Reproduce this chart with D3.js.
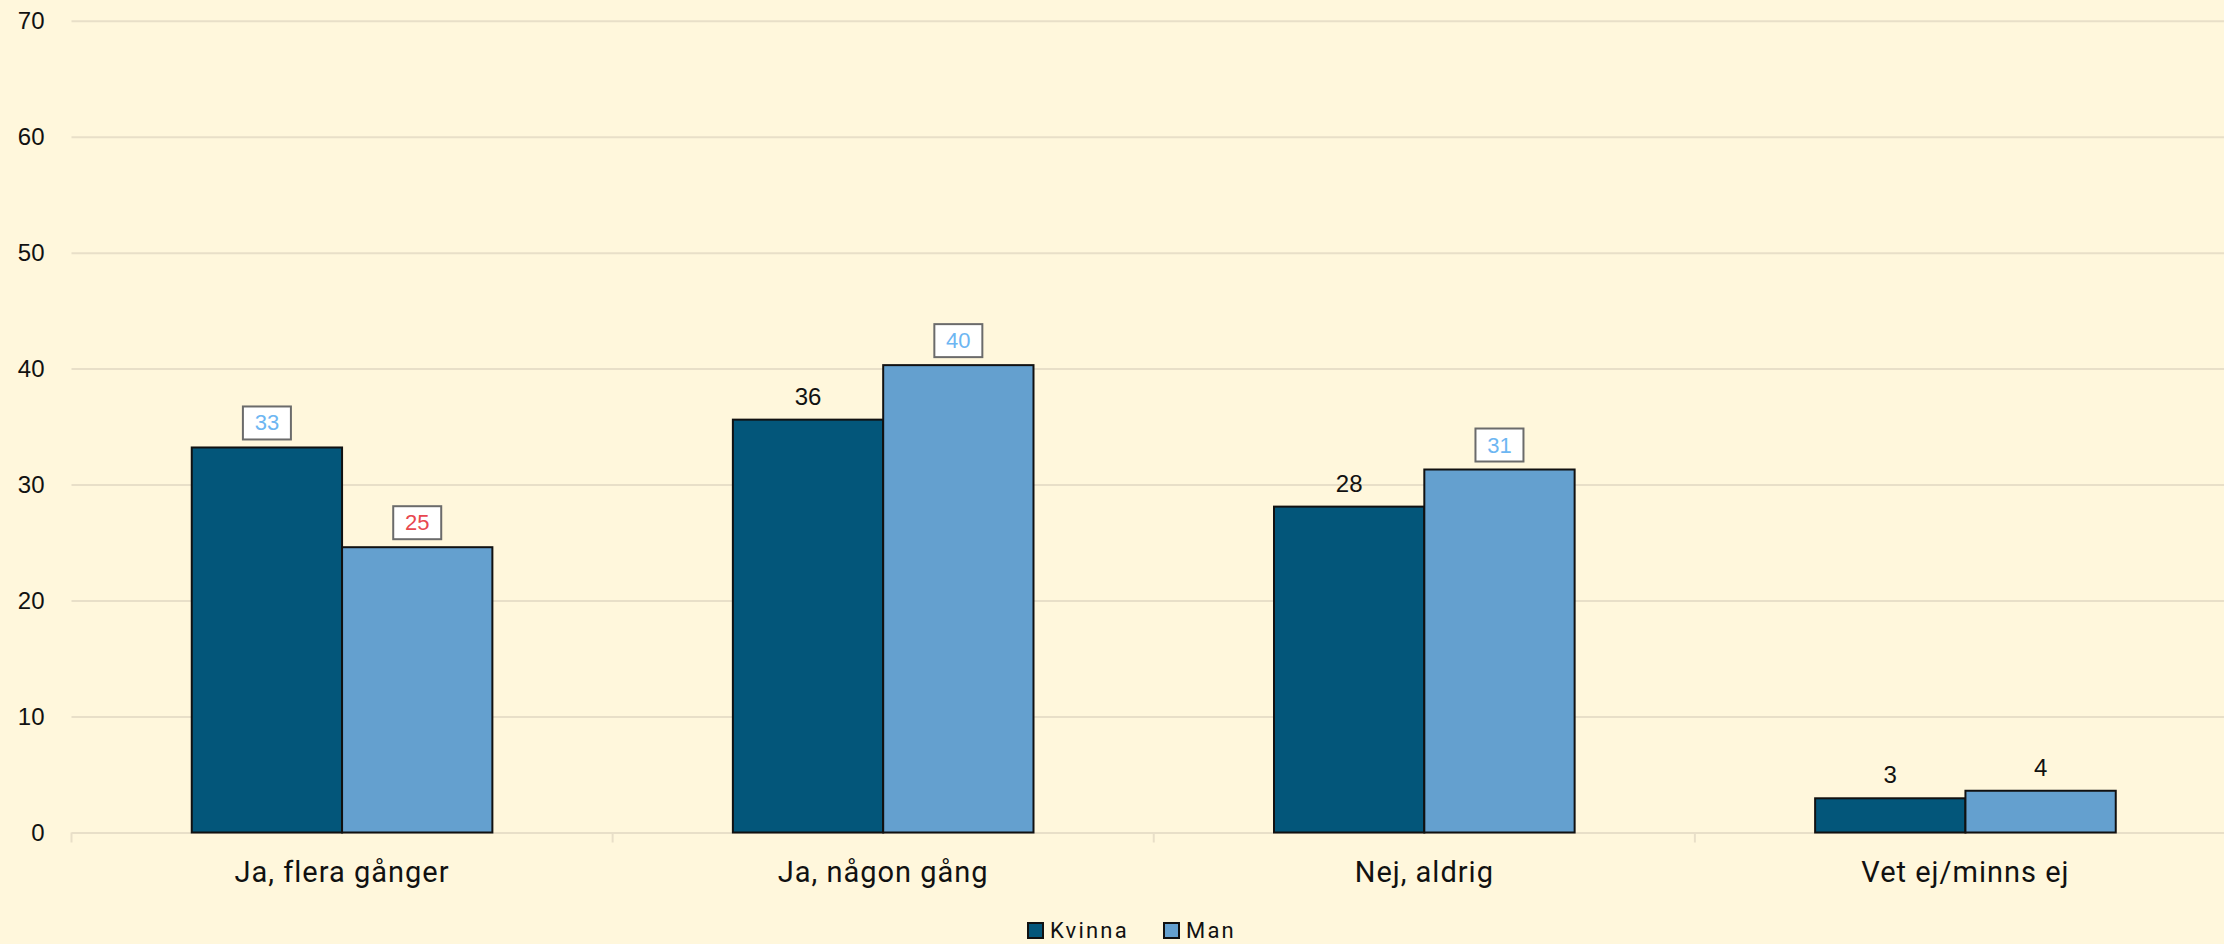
<!DOCTYPE html>
<html>
<head>
<meta charset="utf-8">
<script src="https://cdn.jsdelivr.net/npm/d3@7"></script>
<style>
  body { margin: 0; background: #fff7dc; }
  svg { display: block; }
</style>
</head>
<body>
<script>
var categories = ["Ja, flera gånger", "Ja, någon gång", "Nej, aldrig", "Vet ej/minns ej"];
var series = ["Kvinna", "Man"];
var kvinnaValues = [33.2, 35.6, 28.1, 2.95];
var manValues = [24.6, 40.3, 31.3, 3.6];
var kvinnaLabels = ["33", "36", "28", "3"];
var manLabels = ["25", "40", "31", "4"];
// marker on the label: "up" = blue box, "down" = red box, null = plain
var kvinnaMarks = ["up", null, null, null];
var manMarks = ["down", "up", "up", null];
var yTicks = [0, 10, 20, 30, 40, 50, 60, 70];

var w = 2224;
var h = 944;
var plotLeft = 71.5;
var plotRight = 2236;   // plot runs a little past the picture edge
var plotTop = 20.7;
var plotBottom = 832.5;

var rows = [];
categories.forEach(function(c, i) {
    rows.push({cat: c, key: "Kvinna", value: kvinnaValues[i], label: kvinnaLabels[i], mark: kvinnaMarks[i]});
    rows.push({cat: c, key: "Man", value: manValues[i], label: manLabels[i], mark: manMarks[i]});
});

var svg = d3.select("body")
    .append("svg")
    .attr("width", w)
    .attr("height", h);

svg.append("rect")
    .attr("width", w)
    .attr("height", h)
    .attr("fill", "#fff7dc");

var x0 = d3.scaleBand()
    .domain(categories)
    .range([plotLeft, plotRight])
    .padding(0);

var x1 = d3.scaleBand()
    .domain(series)
    .range([0, x0.bandwidth()])
    .paddingInner(0)
    .paddingOuter(0.8);

var y = d3.scaleLinear()
    .domain([0, 70])
    .range([plotBottom, plotTop]);

var color = d3.scaleOrdinal()
    .domain(series)
    .range(["#03567a", "#64a0cf"]);

// y axis with gridlines
var yAxis = svg.append("g")
    .attr("transform", "translate(" + plotLeft + ",0)")
    .call(d3.axisLeft(y)
        .tickValues(yTicks)
        .tickSizeInner(-(plotRight - plotLeft))
        .tickSizeOuter(0)
        .tickPadding(27));
yAxis.select(".domain").remove();
yAxis.selectAll(".tick line")
    .attr("stroke", "#e8dfc8")
    .attr("stroke-width", 2);
yAxis.selectAll(".tick text")
    .attr("fill", "#111")
    .style("font-family", "'Liberation Sans', Arial, sans-serif")
    .style("font-size", "24px");

// category separator ticks under the baseline
var edges = categories.map(function(c) { return x0(c); });
edges.push(plotRight);
svg.selectAll(".sep")
    .data(edges)
    .enter()
    .append("line")
    .attr("class", "sep")
    .attr("x1", function(d) { return d; })
    .attr("x2", function(d) { return d; })
    .attr("y1", plotBottom)
    .attr("y2", plotBottom + 10)
    .attr("stroke", "#e8dfc8")
    .attr("stroke-width", 2);

// category labels
svg.selectAll(".cat")
    .data(categories)
    .enter()
    .append("text")
    .attr("class", "cat")
    .attr("x", function(d) { return x0(d) + x0.bandwidth() / 2; })
    .attr("y", 882)
    .attr("text-anchor", "middle")
    .attr("fill", "#111")
    .style("font-family", "Roboto, 'Noto Sans', sans-serif")
    .style("font-size", "29px")
    .style("letter-spacing", "1px")
    .text(function(d) { return d; });

// bars
svg.selectAll(".bar")
    .data(rows)
    .enter()
    .append("rect")
    .attr("class", "bar")
    .attr("x", function(d) { return x0(d.cat) + x1(d.key); })
    .attr("y", function(d) { return y(d.value); })
    .attr("width", x1.bandwidth())
    .attr("height", function(d) { return y(0) - y(d.value); })
    .attr("fill", function(d) { return color(d.key); })
    .attr("stroke", "#111")
    .attr("stroke-width", 2);

// value labels
var labels = svg.selectAll(".lab")
    .data(rows)
    .enter()
    .append("g")
    .attr("class", "lab")
    .attr("transform", function(d) {
        return "translate(" + (x0(d.cat) + x1(d.key) + x1.bandwidth() / 2) + "," + y(d.value) + ")";
    });

labels.filter(function(d) { return d.mark; })
    .append("rect")
    .attr("x", -24)
    .attr("y", -41)
    .attr("width", 48)
    .attr("height", 33)
    .attr("fill", "#ffffff")
    .attr("stroke", "#6b6b6b")
    .attr("stroke-width", 2);

labels.append("text")
    .attr("text-anchor", "middle")
    .attr("y", function(d) { return d.mark ? -17 : -15; })
    .attr("fill", function(d) {
        if (d.mark === "up") return "#6db6f2";
        if (d.mark === "down") return "#e8474f";
        return "#111";
    })
    .style("font-family", "'Liberation Sans', Arial, sans-serif")
    .style("font-size", function(d) { return d.mark ? "22px" : "24px"; })
    .text(function(d) { return d.label; });

// legend
var legendX = [1028, 1164];
var legend = svg.selectAll(".leg")
    .data(series)
    .enter()
    .append("g")
    .attr("class", "leg")
    .attr("transform", function(d, i) { return "translate(" + legendX[i] + ",923)"; });

legend.append("rect")
    .attr("width", 15)
    .attr("height", 15)
    .attr("fill", function(d) { return color(d); })
    .attr("stroke", "#111")
    .attr("stroke-width", 2);

legend.append("text")
    .attr("x", 22)
    .attr("y", 15)
    .attr("fill", "#111")
    .style("font-family", "Roboto, 'Noto Sans', sans-serif")
    .style("font-size", "22px")
    .style("letter-spacing", "2.2px")
    .text(function(d) { return d; });
</script>
</body>
</html>
